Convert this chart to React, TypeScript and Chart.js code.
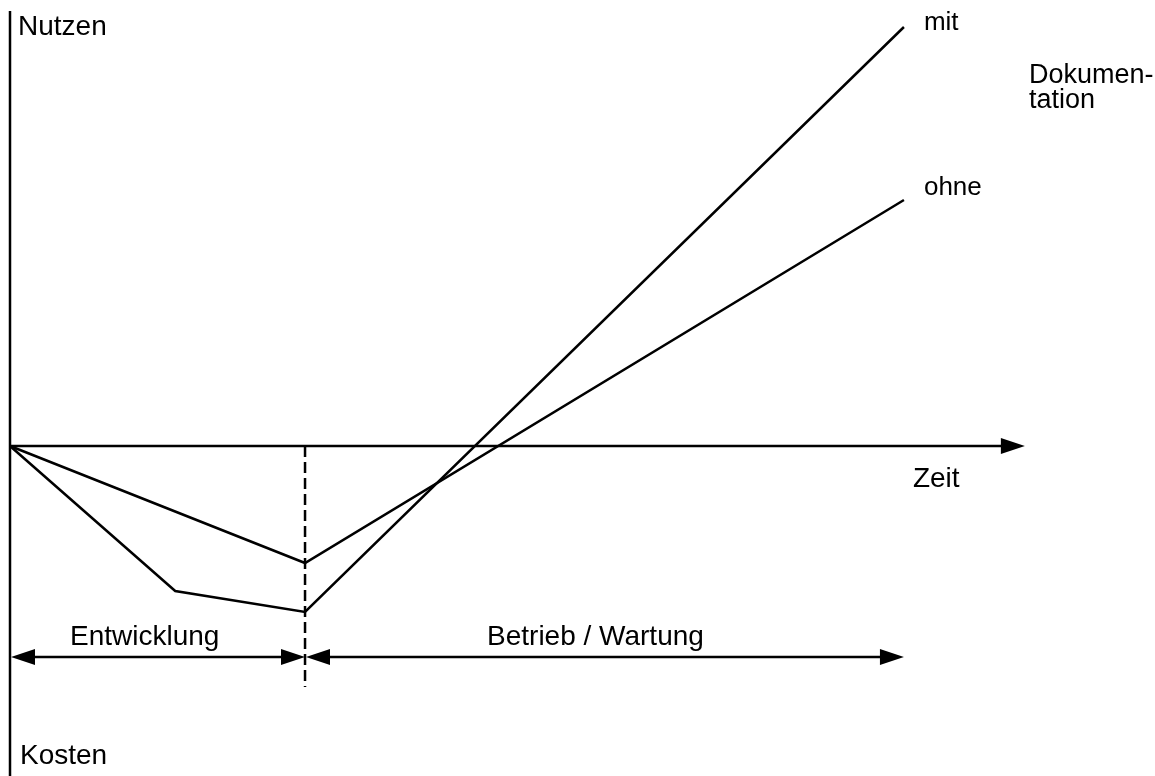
import { useEffect, useRef } from "react";
import { Chart, registerables } from "chart.js";

Chart.register(...registerables);

// ---- data (time units / value units) ----
const phaseBounds = [0, 10, 30.3]; // start, end Entwicklung, end Betrieb / Wartung
const phaseLabels = ["Entwicklung", "Betrieb / Wartung"];
const mitTimes = [0, 5.6, 10, 30.3];
const mitValues = [0, -14.5, -16.6, 41.9];
const ohneTimes = [0, 10, 30.3];
const ohneValues = [0, -11.7, 24.6];
const seriesLabels = ["mit", "ohne"];
const docLabel = ["Dokumen-", "tation"];
const axisLabels = { up: "Nutzen", down: "Kosten", time: "Zeit" };
const timeAxisEnd = 34.4;
const valueAxisTop = 43.5;
const dashBottom = -24.1;
const phaseArrowLevel = -21.1;

// view window
const X_MIN = -0.339;
const X_MAX = 38.81;
const Y_MIN = -33;
const Y_MAX = 44.6;

const FONT = '28px "Liberation Sans", Arial, sans-serif';
const FONT_S = '26px "Liberation Sans", Arial, sans-serif';
const FONT_D = '27px "Liberation Sans", Arial, sans-serif';
const LW = 2.5;

function arrowHead(ctx: CanvasRenderingContext2D, tipX: number, y: number, dir: number) {
  const len = 24;
  const half = 8;
  ctx.beginPath();
  ctx.moveTo(tipX, y);
  ctx.lineTo(tipX - dir * len, y - half);
  ctx.lineTo(tipX - dir * len, y + half);
  ctx.closePath();
  ctx.fill();
}

const diagramPlugin = {
  id: "diagram",
  beforeDatasetsDraw(chart: any) {
    const ctx: CanvasRenderingContext2D = chart.ctx;
    const xs = chart.scales.x;
    const ys = chart.scales.y;
    const X = (v: number) => xs.getPixelForValue(v);
    const Y = (v: number) => ys.getPixelForValue(v);
    ctx.save();
    ctx.strokeStyle = "#000";
    ctx.fillStyle = "#000";
    ctx.lineWidth = LW;
    // vertical axis
    ctx.beginPath();
    ctx.moveTo(X(0), Y(valueAxisTop));
    ctx.lineTo(X(0), chart.height);
    ctx.stroke();
    // horizontal axis
    ctx.beginPath();
    ctx.moveTo(X(0), Y(0));
    ctx.lineTo(X(timeAxisEnd) - 20, Y(0));
    ctx.stroke();
    arrowHead(ctx, X(timeAxisEnd), Y(0), 1);
    // dashed phase boundary
    ctx.setLineDash([11, 5]);
    ctx.beginPath();
    ctx.moveTo(X(phaseBounds[1]), Y(0));
    ctx.lineTo(X(phaseBounds[1]), Y(dashBottom));
    ctx.stroke();
    ctx.setLineDash([]);
    // phase arrows
    const ay = Y(phaseArrowLevel);
    for (let i = 0; i < phaseBounds.length - 1; i++) {
      const a = X(phaseBounds[i]) + 1;
      const b = X(phaseBounds[i + 1]);
      ctx.beginPath();
      ctx.moveTo(a + 10, ay);
      ctx.lineTo(b - 10, ay);
      ctx.stroke();
      arrowHead(ctx, a, ay, -1);
      arrowHead(ctx, b, ay, 1);
    }
    ctx.restore();
  },
  afterDraw(chart: any) {
    const ctx: CanvasRenderingContext2D = chart.ctx;
    const xs = chart.scales.x;
    const ys = chart.scales.y;
    const X = (v: number) => xs.getPixelForValue(v);
    const Y = (v: number) => ys.getPixelForValue(v);
    ctx.save();
    ctx.fillStyle = "#000";
    ctx.textBaseline = "alphabetic";
    ctx.textAlign = "left";
    ctx.font = FONT;
    ctx.fillText(axisLabels.up, X(0) + 8, 35);
    ctx.fillText(axisLabels.down, X(0) + 10, chart.height - 12);
    ctx.fillText(axisLabels.time, X(phaseBounds[2]) + 9, Y(0) + 41);
    ctx.fillText(phaseLabels[0], X(phaseBounds[0]) + 60, Y(phaseArrowLevel) - 12);
    ctx.fillText(phaseLabels[1], X(phaseBounds[1]) + 182, Y(phaseArrowLevel) - 12);
    ctx.font = FONT_S;
    const mEndX = X(mitTimes[mitTimes.length - 1]);
    const mEndY = Y(mitValues[mitValues.length - 1]);
    const oEndX = X(ohneTimes[ohneTimes.length - 1]);
    const oEndY = Y(ohneValues[ohneValues.length - 1]);
    ctx.fillText(seriesLabels[0], mEndX + 20, mEndY + 3);
    ctx.fillText(seriesLabels[1], oEndX + 20, oEndY - 5);
    ctx.font = FONT_D;
    ctx.fillText(docLabel[0], mEndX + 125, mEndY + 56);
    ctx.fillText(docLabel[1], mEndX + 125, mEndY + 81);
    ctx.restore();
  },
};

export default function App() {
  const ref = useRef<HTMLCanvasElement | null>(null);
  useEffect(() => {
    document.body.style.margin = "0";
    const canvas = ref.current;
    if (!canvas) return;
    const chart = new Chart(canvas, {
      type: "line",
      data: {
        datasets: [
          {
            label: seriesLabels[0],
            data: mitTimes.map((t, i) => ({ x: t, y: mitValues[i] })),
            borderColor: "#000",
            borderWidth: LW,
            pointRadius: 0,
            tension: 0,
            fill: false,
          },
          {
            label: seriesLabels[1],
            data: ohneTimes.map((t, i) => ({ x: t, y: ohneValues[i] })),
            borderColor: "#000",
            borderWidth: LW,
            pointRadius: 0,
            tension: 0,
            fill: false,
          },
        ],
      },
      options: {
        responsive: false,
        maintainAspectRatio: false,
        animation: false,
        layout: { padding: 0 },
        plugins: { legend: { display: false }, tooltip: { enabled: false } },
        scales: {
          x: { type: "linear", display: false, min: X_MIN, max: X_MAX },
          y: { type: "linear", display: false, min: Y_MIN, max: Y_MAX },
        },
      },
      plugins: [diagramPlugin],
    });
    return () => chart.destroy();
  }, []);
  return (
    <div style={{ position: "absolute", left: 0, top: 0, width: 1155, height: 776, background: "#fff" }}>
      <canvas ref={ref} width={1155} height={776} style={{ display: "block" }} />
    </div>
  );
}
